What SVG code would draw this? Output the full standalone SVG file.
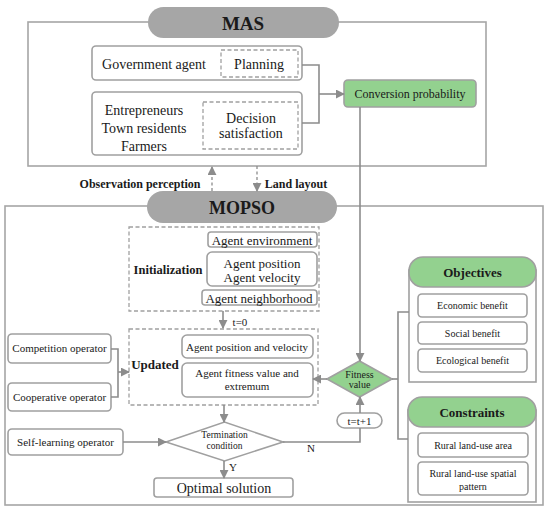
<svg xmlns="http://www.w3.org/2000/svg" width="550" height="512" viewBox="0 0 550 512">
<defs>
<style>
.frame{fill:#fff;stroke:#a6a6a6;stroke-width:1.6}
.box{fill:#fff;stroke:#a0a0a0;stroke-width:1.6}
.dash{fill:none;stroke:#a0a0a0;stroke-width:1.3;stroke-dasharray:4,2.5}
.pill{fill:#a6a6a6;stroke:none}
.green{fill:#93d18f;stroke:#a0a0a0;stroke-width:1.6}
.ln{fill:none;stroke:#8c8c8c;stroke-width:1.6}
.dl{fill:none;stroke:#8c8c8c;stroke-width:1.3;stroke-dasharray:3,2.5}
text{font-family:"Liberation Serif","DejaVu Serif","Times New Roman",serif;fill:#1a1a1a;text-anchor:middle;dominant-baseline:central}
.b{font-weight:bold}
.t14{font-size:14px}.t13{font-size:13px}.t12{font-size:12px}.t11{font-size:11px}.t10{font-size:10px}
</style>
<marker id="ah" viewBox="0 0 10 10" refX="9" refY="5" markerWidth="9" markerHeight="9" markerUnits="userSpaceOnUse" orient="auto">
<path d="M0,0 L10,5 L0,10 z" fill="#8c8c8c"/>
</marker>
</defs>

<g id="mas-frame">
<rect class="frame" x="28" y="22" width="458" height="144"/>
<rect class="pill" x="148" y="7" width="191" height="31" rx="15.5"/>
<text class="b" x="243" y="23" style="font-size:19px">MAS</text>
</g>

<g id="gov">
<rect class="box" x="92" y="46" width="210" height="34" rx="4"/>
<text class="t14" x="154" y="64">Government agent</text>
<rect class="dash" x="221" y="50" width="77" height="27"/>
<text class="t14" x="259" y="64">Planning</text>
</g>

<g id="residents">
<rect class="box" x="92" y="92" width="210" height="63" rx="4"/>
<text class="t14" x="144" y="110">Entrepreneurs</text>
<text class="t14" x="144" y="128">Town residents</text>
<text class="t14" x="144" y="146">Farmers</text>
<rect class="dash" x="203" y="102" width="95" height="47"/>
<text class="t14" x="251" y="118">Decision</text>
<text class="t14" x="251" y="133">satisfaction</text>
</g>

<g id="conversion">
<rect class="green" x="344" y="80" width="132" height="27" rx="4"/>
<text class="t12" x="410" y="94">Conversion probability</text>
</g>

<g id="mopso-frame">
<rect class="frame" x="5" y="206" width="538" height="299"/>
<rect class="pill" x="147" y="191" width="190" height="32" rx="16"/>
<text class="b" x="242" y="208" style="font-size:18px">MOPSO</text>
</g>

<g id="labels">
<text class="b t12" x="140" y="184">Observation perception</text>
<text class="b t12" x="296" y="184">Land layout</text>
<text class="t11" x="240" y="322">t=0</text>
<text class="t11" x="233" y="467">Y</text>
<text class="t11" x="311" y="448">N</text>
</g>

<g id="initialization">
<rect class="dash" x="129" y="227" width="190" height="84"/>
<text class="b" x="168" y="270" style="font-size:12.5px">Initialization</text>
<rect class="box" x="208" y="232" width="109" height="15" rx="3"/>
<text class="t13" x="262" y="240">Agent environment</text>
<rect class="box" x="207" y="252" width="110" height="34" rx="5"/>
<text class="t13" x="262" y="263">Agent position</text>
<text class="t13" x="262" y="277">Agent velocity</text>
<rect class="box" x="202" y="290" width="115" height="15" rx="3"/>
<text class="t13" x="259" y="298">Agent neighborhood</text>
</g>

<g id="updated">
<rect class="dash" x="129" y="329" width="189" height="76"/>
<text class="b t13" x="155" y="364">Updated</text>
<rect class="box" x="182" y="335" width="131" height="23" rx="5"/>
<text class="t11" x="247" y="347">Agent position and velocity</text>
<rect class="box" x="182" y="363" width="131" height="34" rx="5"/>
<text class="t11" x="247" y="373">Agent fitness value and</text>
<text class="t11" x="247" y="386">extremum</text>
</g>

<g id="competition">
<rect class="box" x="8" y="334" width="103" height="29" rx="4"/>
<text class="t11" x="59.5" y="348">Competition operator</text>
</g>
<g id="cooperative">
<rect class="box" x="8" y="383" width="103" height="28" rx="4"/>
<text class="t11" x="59.5" y="397">Cooperative operator</text>
</g>
<g id="selflearning">
<rect class="box" x="8" y="429" width="115" height="26" rx="4"/>
<text class="t11" x="65.5" y="442">Self-learning operator</text>
</g>

<g id="termination">
<polygon class="box" points="166,442 224.5,422 283,442 224.5,461"/>
<text x="224.5" y="435" style="font-size:9.5px">Termination</text>
<text x="224.5" y="446" style="font-size:9.5px">condition</text>
</g>

<g id="optimal">
<rect class="box" x="154" y="478" width="139" height="19" rx="3"/>
<text class="t14" x="224" y="488">Optimal solution</text>
</g>

<g id="tplus">
<rect class="box" x="337" y="413" width="45" height="15" rx="7.5"/>
<text class="t11" x="359.5" y="421">t=t+1</text>
</g>

<g id="fitness">
<polygon class="green" points="327,379 359.5,361 392,379 359.5,397"/>
<text class="t10" x="359.5" y="374">Fitness</text>
<text class="t10" x="359.5" y="384">value</text>
</g>

<g id="objectives">
<rect class="box" x="409" y="270" width="127" height="112"/>
<rect class="green" x="409" y="257" width="127" height="30" rx="14"/>
<text class="b t13" x="472.5" y="272">Objectives</text>
<rect class="box" x="418" y="294" width="109" height="23" rx="4"/>
<text class="t10" x="472.5" y="305.5">Economic benefit</text>
<rect class="box" x="418" y="322" width="109" height="22" rx="4"/>
<text class="t10" x="472.5" y="333">Social benefit</text>
<rect class="box" x="418" y="349" width="109" height="23" rx="4"/>
<text class="t10" x="472.5" y="360.5">Ecological benefit</text>
</g>

<g id="constraints">
<rect class="box" x="408" y="410" width="128" height="92"/>
<rect class="green" x="408" y="397" width="128" height="30" rx="14"/>
<text class="b t13" x="472" y="412">Constraints</text>
<rect class="box" x="418" y="433" width="110" height="24" rx="4"/>
<text class="t10" x="473" y="445">Rural land-use area</text>
<rect class="box" x="418" y="462" width="110" height="33" rx="4"/>
<text class="t10" x="473" y="473">Rural land-use spatial</text>
<text class="t10" x="473" y="486">pattern</text>
</g>

<g id="connectors">
<polyline class="ln" points="302,65 319,65 319,123 302,123"/>
<line class="ln" x1="319" y1="94" x2="344" y2="94" marker-end="url(#ah)"/>
<line class="ln" x1="360" y1="107" x2="360" y2="361" marker-end="url(#ah)"/>
<line class="dl" x1="212" y1="191" x2="212" y2="167" marker-end="url(#ah)"/>
<line class="dl" x1="257" y1="166" x2="257" y2="191" marker-end="url(#ah)"/>
<line class="ln" x1="223" y1="311" x2="223" y2="328" marker-end="url(#ah)"/>
<polyline class="ln" points="111,349 118,349 118,397 111,397"/>
<line class="ln" x1="118" y1="372" x2="129" y2="372" marker-end="url(#ah)"/>
<line class="ln" x1="224" y1="405" x2="224" y2="422" marker-end="url(#ah)"/>
<line class="ln" x1="123" y1="442" x2="166" y2="442" marker-end="url(#ah)"/>
<line class="ln" x1="224" y1="461" x2="224" y2="478" marker-end="url(#ah)"/>
<polyline class="ln" points="283,442 360,442 360,428"/>
<line class="ln" x1="360" y1="413" x2="360" y2="397" marker-end="url(#ah)"/>
<line class="ln" x1="327" y1="379" x2="313" y2="379" marker-end="url(#ah)"/>
<line class="ln" x1="392" y1="379" x2="398" y2="379"/>
<polyline class="ln" points="409,312 398,312 398,439 408,439"/>
</g>
</svg>
